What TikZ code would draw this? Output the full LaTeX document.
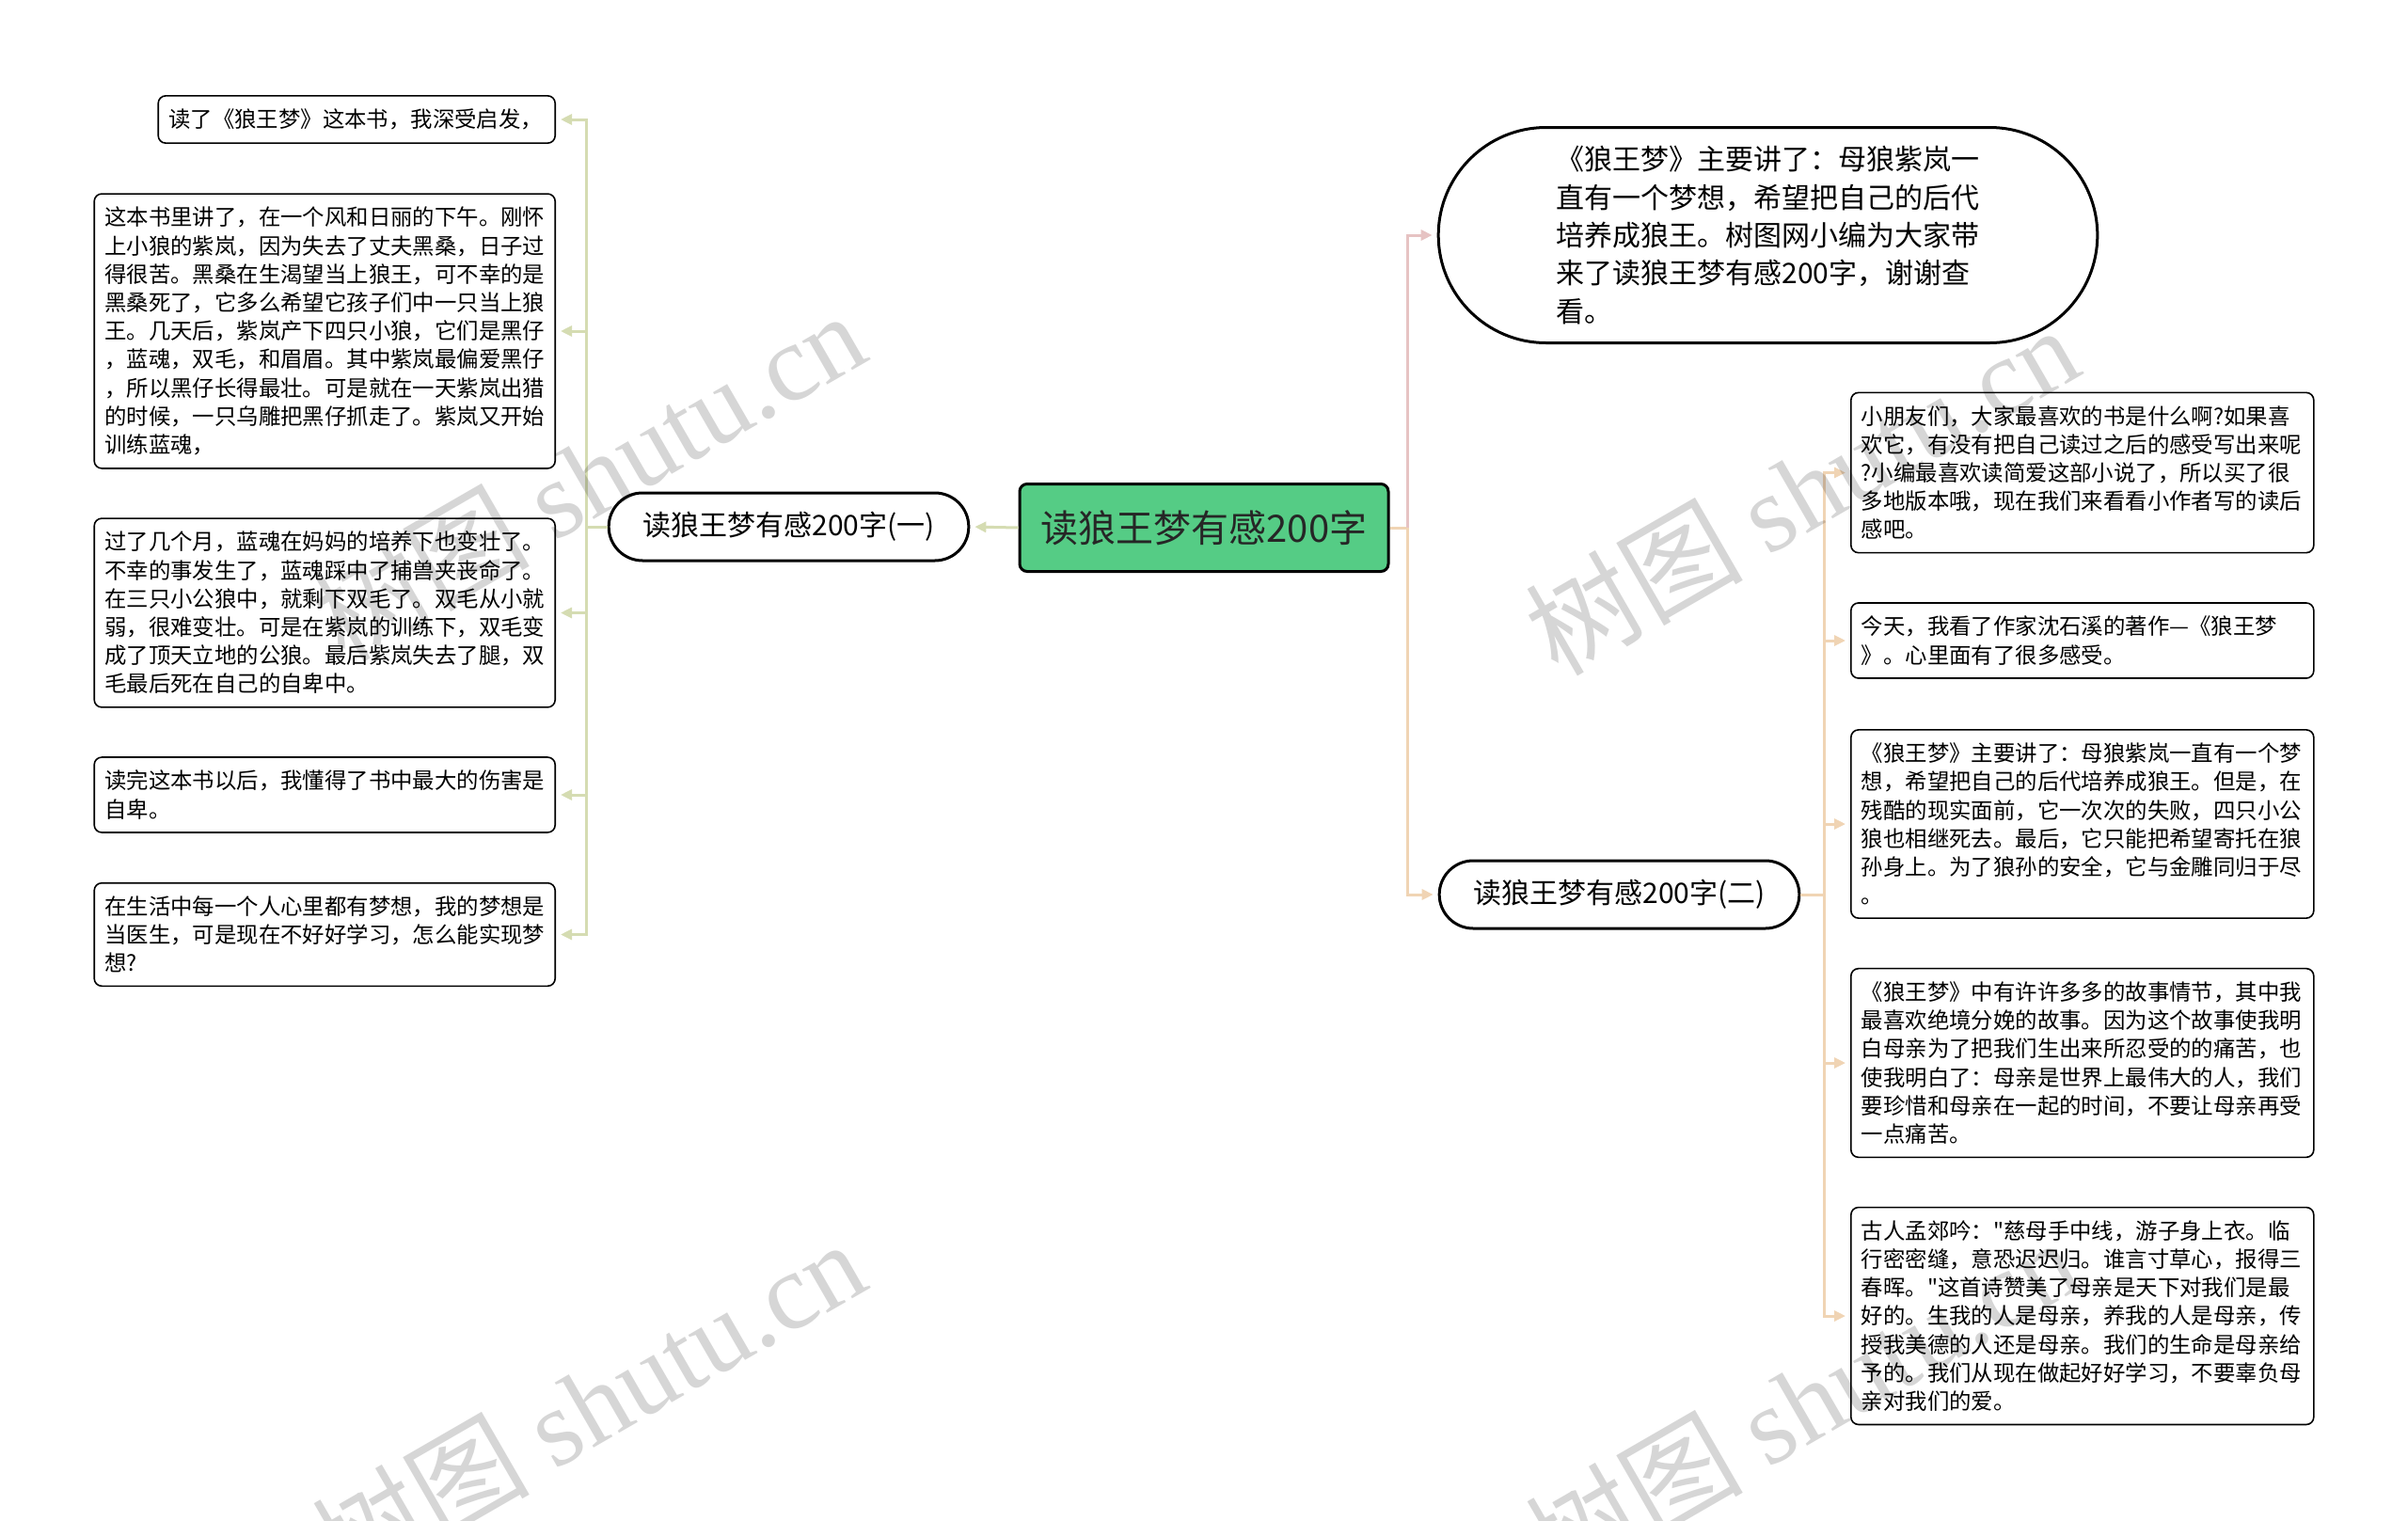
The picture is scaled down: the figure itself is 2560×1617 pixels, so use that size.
\documentclass[tikz,border=0pt]{standalone}
\usepackage{fontspec}
\setmainfont{Noto Sans CJK SC}
\newfontfamily\plainq{Noto Sans CJK SC}
\newfontfamily\wmserif{Liberation Serif}
\usepackage{xcolor}
\usepackage{tikz}
\usetikzlibrary{arrows.meta,positioning,shapes.misc}
\definecolor{pgreen}{HTML}{55CC85}
\definecolor{polive}{HTML}{D5DCB2}
\definecolor{ppink}{HTML}{E6C3C3}
\definecolor{ptan}{HTML}{F0D4B4}
\newcommand{\sq}{{\plainq"}}
\tikzset{
  % centre, first level and leaves
  root/.style  = {rectangle, rounded corners=4pt, draw=black, fill=pgreen, line width=1.5pt,
                  minimum width=196pt, minimum height=46.5pt, text=black!85,
                  font=\fontsize{20pt}{24pt}\selectfont},
  sub/.style   = {rounded rectangle, draw=black, fill=white, line width=1.5pt,
                  minimum width=198pt, minimum height=36pt,
                  font=\fontsize{15pt}{18pt}\selectfont},
  cloud/.style = {rounded rectangle, draw=black, fill=white, line width=1.5pt,
                  minimum width=357pt, minimum height=114.5pt, align=left,
                  font=\fontsize{15pt}{20.2pt}\selectfont},
  leaf/.style  = {rectangle, rounded corners=4pt, draw=black, fill=white, line width=0.8pt,
                  text width=235pt, inner xsep=5.5pt, inner ysep=7pt, align=left,
                  font=\fontsize{11.7pt}{15.1pt}\selectfont},
  lane/.style  = {-{Triangle[length=6pt,width=5.5pt]}, line width=1.5pt, draw=#1, shorten >=2.5pt},
  trunk/.style = {line width=1.5pt, draw=#1},
  wm/.style    = {text=black, text opacity=0.16, rotate=30, font=\fontsize{58pt}{58pt}\selectfont},
}

\begin{document}
\begin{tikzpicture}[x=0.5pt,y=-0.5pt]
\useasboundingbox[fill=white] (0,0) rectangle (2560,1617);
\node[root]  (main)  at (1280,561)   {读狼王梦有感200字};
\node[sub]   (one)   at (838.5,560)  {读狼王梦有感200字(一)};
\node[sub]   (two)   at (1721.5,951) {读狼王梦有感200字(二)};
\node[cloud] (intro) at (1879.5,250) {《狼王梦》主要讲了：母狼紫岚一\\直有一个梦想，希望把自己的后代\\培养成狼王。树图网小编为大家带\\来了读狼王梦有感200字，谢谢查\\看。};
% left leaves
\node[leaf, text width=200pt, anchor=east] (l1) at (591,127) {读了《狼王梦》这本书，我深受启发，};
\node[leaf, text width=234pt, anchor=east] (l2) at (591,352) {这本书里讲了，在一个风和日丽的下午。刚怀\\上小狼的紫岚，因为失去了丈夫黑桑，日子过\\得很苦。黑桑在生渴望当上狼王，可不幸的是\\黑桑死了，它多么希望它孩子们中一只当上狼\\王。几天后，紫岚产下四只小狼，它们是黑仔\\，蓝魂，双毛，和眉眉。其中紫岚最偏爱黑仔\\，所以黑仔长得最壮。可是就在一天紫岚出猎\\的时候，一只乌雕把黑仔抓走了。紫岚又开始\\训练蓝魂，};
\node[leaf, text width=234pt, anchor=east] (l3) at (591,651.5) {过了几个月，蓝魂在妈妈的培养下也变壮了。\\不幸的事发生了，蓝魂踩中了捕兽夹丧命了。\\在三只小公狼中，就剩下双毛了。双毛从小就\\弱，很难变壮。可是在紫岚的训练下，双毛变\\成了顶天立地的公狼。最后紫岚失去了腿，双\\毛最后死在自己的自卑中。};
\node[leaf, text width=234pt, anchor=east] (l4) at (591,845) {读完这本书以后，我懂得了书中最大的伤害是\\自卑。};
\node[leaf, text width=234pt, anchor=east] (l5) at (591,993.5) {在生活中每一个人心里都有梦想，我的梦想是\\当医生，可是现在不好好学习，怎么能实现梦\\想?};
% right leaves
\node[leaf, anchor=west] (r1) at (1967,502.5) {小朋友们，大家最喜欢的书是什么啊?如果喜\\欢它，有没有把自己读过之后的感受写出来呢\\?小编最喜欢读简爱这部小说了，所以买了很\\多地版本哦，现在我们来看看小作者写的读后\\感吧。};
\node[leaf, anchor=west] (r2) at (1967,681) {今天，我看了作家沈石溪的著作—《狼王梦\\》。心里面有了很多感受。};
\node[leaf, anchor=west] (r3) at (1967,876) {《狼王梦》主要讲了：母狼紫岚一直有一个梦\\想，希望把自己的后代培养成狼王。但是，在\\残酷的现实面前，它一次次的失败，四只小公\\狼也相继死去。最后，它只能把希望寄托在狼\\孙身上。为了狼孙的安全，它与金雕同归于尽\\。};
\node[leaf, anchor=west] (r4) at (1967,1130) {《狼王梦》中有许许多多的故事情节，其中我\\最喜欢绝境分娩的故事。因为这个故事使我明\\白母亲为了把我们生出来所忍受的的痛苦，也\\使我明白了：母亲是世界上最伟大的人，我们\\要珍惜和母亲在一起的时间，不要让母亲再受\\一点痛苦。};
\node[leaf, anchor=west] (r5) at (1967,1399) {古人孟郊吟：\sq 慈母手中线，游子身上衣。临\\行密密缝，意恐迟迟归。谁言寸草心，报得三\\春晖。\sq 这首诗赞美了母亲是天下对我们是最\\好的。生我的人是母亲，养我的人是母亲，传\\授我美德的人还是母亲。我们的生命是母亲给\\予的。我们从现在做起好好学习，不要辜负母\\亲对我们的爱。};
% connectors
\draw[lane=polive] (main.west) -- (one.east);
\draw[trunk=polive] (one.west) -- ++(-22,0) coordinate (lj);
\foreach \n in {l1,l2,l3,l4,l5}
  \draw[lane=polive] (lj) |- (\n.east);
\draw[trunk=ptan] (main.east) -- ++(19,0) coordinate (mj);
\draw[lane=ppink] (mj) |- (intro.west);
\draw[lane=ptan] (mj) |- (two.west);
\draw[trunk=ptan] (two.east) -- ++(25,0) coordinate (tj);
\foreach \n in {r1,r2,r3,r4,r5}
  \draw[lane=ptan] (tj) |- (\n.west);
% watermarks
\node[wm] (wm1) at (625,505)   {树图 {\wmserif shutu.cn}};
\node[wm] (wm2) at (1915,520)  {树图 {\wmserif shutu.cn}};
\node[wm] (wm3) at (625,1492)  {树图 {\wmserif shutu.cn}};
\node[wm] (wm4) at (1915,1490) {树图 {\wmserif shutu.cn}};
\end{tikzpicture}
\end{document}
